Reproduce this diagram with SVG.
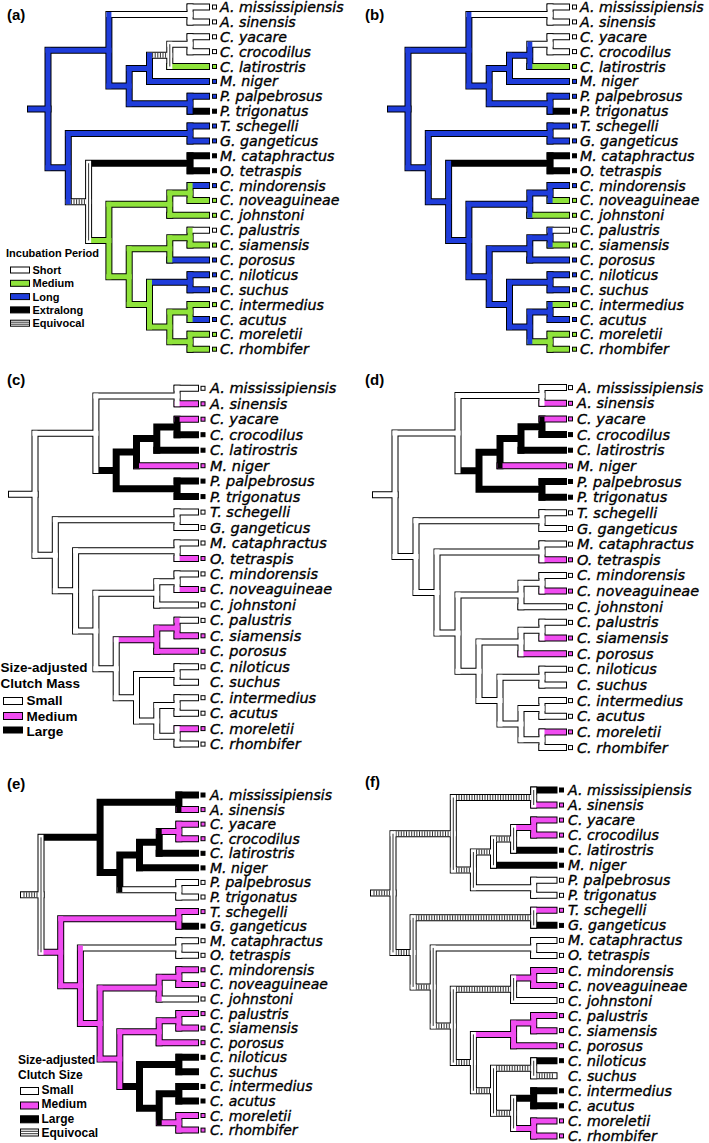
<svg xmlns="http://www.w3.org/2000/svg" width="709" height="1143" viewBox="0 0 709 1143">
<style>
.o,.W,.G,.B,.K,.M,.E,.et,.ev{fill:none;vector-effect:non-scaling-stroke}
.o{stroke:#000;stroke-width:7;stroke-linecap:square}
.W,.G,.B,.K,.M,.E{stroke-width:5;stroke-linecap:square}
.W,.E{stroke:#fff}
.G{stroke:#8fe33b}
.B{stroke:#1f3ddb}
.K{stroke:#000}
.M{stroke:#f04cf0}
.et{stroke:#333;stroke-width:5;stroke-dasharray:1 1.6}
.ev{stroke:#333;stroke-width:1}
.tb{stroke:#000;stroke-width:1}
.fw{fill:#fff}.fg{fill:#8fe33b}.fb{fill:#1f3ddb}.fk{fill:#000}.fm{fill:#f04cf0}
.n{font-family:"DejaVu Sans",sans-serif;font-style:italic;font-size:14.2px;fill:#000;stroke:#000;stroke-width:0.35}
#c-tips .n,#d-tips .n{font-size:14.5px}
#e-tips .n{font-size:14px}
.pl{font-family:"Liberation Sans",Arial,sans-serif;font-weight:bold;font-size:15px}
.lg{font-family:"Liberation Sans",Arial,sans-serif;font-weight:bold}
.lb{stroke:#000;stroke-width:1}
</style>
<defs>
<path id="skel" class="o" d="M0,2.906V10.797M3,0.5V5.3125M7,0V1M4,4.125V6.5M5,3.25V5M6,2.5V4M7,2V3M7,6V7M1,8.5V13.094M7,8V9M2,10.5V15.6875M7,10V11M3,13.25V18.125M6,12.5V14M7,12V13M4,16.25V20M6,15.5V17M7,15V16M5,18.5V21.5M7,18V19M6,20.5V22.5M7,20V21M7,22V23M0,2.906H3M0,10.797H1M3,0.5H7M3,5.3125H4M4,4.125H5M5,3.25H6M6,2.5H7M4,6.5H7M1,8.5H7M1,13.094H2M2,10.5H7M2,15.6875H3M3,13.25H6M6,12.5H7M3,18.125H4M4,16.25H6M6,15.5H7M4,20H5M5,18.5H7M5,21.5H6M6,20.5H7M6,22.5H7"/>
</defs>
<rect width="709" height="1143" fill="#fff"/>

<!-- Panel A -->
<g id="panel-a">
<text class="pl" x="7" y="20">(a)</text>
<g id="a-connectors" transform="translate(48,7) scale(20.3,14.88)">
<use href="#skel"/>
<path class="o" d="M-0.862,6.852H0M7,0H7.808M7,1H7.808M7,2H7.808M7,3H7.808M6,4H7.808M5,5H7.808M7,6H7.808M7,7H7.808M7,8H7.808M7,9H7.808M7,10H7.808M7,11H7.808M7,12H7.808M7,13H7.808M6,14H7.808M7,15H7.808M7,16H7.808M6,17H7.808M7,18H7.808M7,19H7.808M7,20H7.808M7,21H7.808M7,22H7.808M7,23H7.808"/>
<path class="B" d="M0,2.906H3M0,10.797H1M3,5.3125H4M4,4.125H5M4,6.5H7M1,8.5H7M5,18.5H7M-0.862,6.852H0M5,5H7.808M7,6H7.808M7,8H7.808M7,9H7.808M7,12H7.808M6,17H7.808M7,18H7.808M7,19H7.808M7,21H7.808"/>
<path class="W" d="M3,0.5H7M6,2.5H7M7,0H7.808M7,1H7.808M7,2H7.808M7,3H7.808M7,15H7.808"/>
<path class="E" d="M5,3.25H6M1,13.094H2"/>
<path class="K" d="M2,10.5H7M7,7H7.808M7,10H7.808M7,11H7.808"/>
<path class="G" d="M2,15.6875H3M3,13.25H6M6,12.5H7M3,18.125H4M4,16.25H6M6,15.5H7M4,20H5M5,21.5H6M6,20.5H7M6,22.5H7M6,4H7.808M7,13H7.808M6,14H7.808M7,16H7.808M7,20H7.808M7,22H7.808M7,23H7.808"/>
<path class="et" d="M5,3.25H6M1,13.094H2"/>
<path class="B" d="M0,2.906V10.797M3,0.5V5.3125M4,4.125V6.5M5,3.25V5M7,6V7M1,8.5V13.094M7,8V9M7,18V19"/>
<path class="W" d="M7,0V1M7,2V3"/>
<path class="E" d="M6,2.5V4M2,10.5V15.6875"/>
<path class="K" d="M7,10V11"/>
<path class="G" d="M3,13.25V18.125M6,12.5V14M7,12V13M4,16.25V20M6,15.5V17M7,15V16M5,18.5V21.5M6,20.5V22.5M7,20V21M7,22V23"/>
<path class="ev" d="M6,2.5V4M2,10.5V15.6875"/>
</g>
<g id="a-tips">
<g id="a-t0"><rect class="tb fw" x="212.5" y="5" width="4" height="4"/><text class="n" x="220" y="12">A. mississipiensis</text></g>
<g id="a-t1"><rect class="tb fw" x="212.5" y="19.9" width="4" height="4"/><text class="n" x="220" y="26.9">A. sinensis</text></g>
<g id="a-t2"><rect class="tb fw" x="212.5" y="34.8" width="4" height="4"/><text class="n" x="220" y="41.8">C. yacare</text></g>
<g id="a-t3"><rect class="tb fw" x="212.5" y="49.6" width="4" height="4"/><text class="n" x="220" y="56.6">C. crocodilus</text></g>
<g id="a-t4"><rect class="tb fg" x="212.5" y="64.5" width="4" height="4"/><text class="n" x="220" y="71.5">C. latirostris</text></g>
<g id="a-t5"><rect class="tb fb" x="212.5" y="79.4" width="4" height="4"/><text class="n" x="220" y="86.4">M. niger</text></g>
<g id="a-t6"><rect class="tb fb" x="212.5" y="94.3" width="4" height="4"/><text class="n" x="220" y="101.3">P. palpebrosus</text></g>
<g id="a-t7"><rect class="tb fk" x="212.5" y="109.2" width="4" height="4"/><text class="n" x="220" y="116.2">P. trigonatus</text></g>
<g id="a-t8"><rect class="tb fb" x="212.5" y="124" width="4" height="4"/><text class="n" x="220" y="131">T. schegelli</text></g>
<g id="a-t9"><rect class="tb fb" x="212.5" y="138.9" width="4" height="4"/><text class="n" x="220" y="145.9">G. gangeticus</text></g>
<g id="a-t10"><rect class="tb fk" x="212.5" y="153.8" width="4" height="4"/><text class="n" x="220" y="160.8">M. cataphractus</text></g>
<g id="a-t11"><rect class="tb fk" x="212.5" y="168.7" width="4" height="4"/><text class="n" x="220" y="175.7">O. tetraspis</text></g>
<g id="a-t12"><rect class="tb fb" x="212.5" y="183.6" width="4" height="4"/><text class="n" x="220" y="190.6">C. mindorensis</text></g>
<g id="a-t13"><rect class="tb fg" x="212.5" y="198.4" width="4" height="4"/><text class="n" x="220" y="205.4">C. noveaguineae</text></g>
<g id="a-t14"><rect class="tb fg" x="212.5" y="213.3" width="4" height="4"/><text class="n" x="220" y="220.3">C. johnstoni</text></g>
<g id="a-t15"><rect class="tb fw" x="212.5" y="228.2" width="4" height="4"/><text class="n" x="220" y="235.2">C. palustris</text></g>
<g id="a-t16"><rect class="tb fg" x="212.5" y="243.1" width="4" height="4"/><text class="n" x="220" y="250.1">C. siamensis</text></g>
<g id="a-t17"><rect class="tb fb" x="212.5" y="258" width="4" height="4"/><text class="n" x="220" y="265">C. porosus</text></g>
<g id="a-t18"><rect class="tb fb" x="212.5" y="272.8" width="4" height="4"/><text class="n" x="220" y="279.8">C. niloticus</text></g>
<g id="a-t19"><rect class="tb fb" x="212.5" y="287.7" width="4" height="4"/><text class="n" x="220" y="294.7">C. suchus</text></g>
<g id="a-t20"><rect class="tb fg" x="212.5" y="302.6" width="4" height="4"/><text class="n" x="220" y="309.6">C. intermedius</text></g>
<g id="a-t21"><rect class="tb fb" x="212.5" y="317.5" width="4" height="4"/><text class="n" x="220" y="324.5">C. acutus</text></g>
<g id="a-t22"><rect class="tb fg" x="212.5" y="332.4" width="4" height="4"/><text class="n" x="220" y="339.4">C. moreletii</text></g>
<g id="a-t23"><rect class="tb fg" x="212.5" y="347.2" width="4" height="4"/><text class="n" x="220" y="354.2">C. rhombifer</text></g>
</g>
<g id="a-legend">
<text class="lg" x="6" y="256.5" font-size="11">Incubation Period</text>
<rect class="lb" x="10.5" y="267" width="19" height="6" fill="#fff"/>
<rect class="lb" x="10.5" y="280.3" width="19" height="6" fill="#8fe33b"/>
<rect class="lb" x="10.5" y="293.6" width="19" height="6" fill="#1f3ddb"/>
<rect class="lb" x="10.5" y="306.9" width="19" height="6" fill="#000"/>
<rect class="lb" x="10.5" y="320.2" width="19" height="6" fill="#fff"/>
<path d="M10.5,322.2H29.5M10.5,324.2H29.5" stroke="#333" stroke-width="1"/>
<text class="lg" x="32.5" y="274" font-size="11">Short</text>
<text class="lg" x="32.5" y="287.3" font-size="11">Medium</text>
<text class="lg" x="32.5" y="300.6" font-size="11">Long</text>
<text class="lg" x="32.5" y="313.9" font-size="11">Extralong</text>
<text class="lg" x="32.5" y="327.2" font-size="11">Equivocal</text>
</g>
</g>

<!-- Panel B -->
<g id="panel-b">
<text class="pl" x="365" y="20">(b)</text>
<g id="b-connectors" transform="translate(408,7) scale(20.3,14.88)">
<use href="#skel"/>
<path class="o" d="M-0.862,6.852H0M7,0H7.808M7,1H7.808M7,2H7.808M7,3H7.808M6,4H7.808M5,5H7.808M7,6H7.808M7,7H7.808M7,8H7.808M7,9H7.808M7,10H7.808M7,11H7.808M7,12H7.808M7,13H7.808M6,14H7.808M7,15H7.808M7,16H7.808M6,17H7.808M7,18H7.808M7,19H7.808M7,20H7.808M7,21H7.808M7,22H7.808M7,23H7.808"/>
<path class="B" d="M0,2.906H3M0,10.797H1M3,5.3125H4M4,4.125H5M5,3.25H6M4,6.5H7M1,8.5H7M1,13.094H2M2,15.6875H3M3,13.25H6M6,12.5H7M3,18.125H4M4,16.25H6M6,15.5H7M4,20H5M5,18.5H7M5,21.5H6M6,20.5H7M-0.862,6.852H0M5,5H7.808M7,6H7.808M7,8H7.808M7,9H7.808M7,12H7.808M6,17H7.808M7,18H7.808M7,19H7.808M7,21H7.808"/>
<path class="W" d="M3,0.5H7M6,2.5H7M7,0H7.808M7,1H7.808M7,2H7.808M7,3H7.808M7,15H7.808"/>
<path class="K" d="M2,10.5H7M7,7H7.808M7,10H7.808M7,11H7.808"/>
<path class="G" d="M6,22.5H7M6,4H7.808M7,13H7.808M6,14H7.808M7,16H7.808M7,20H7.808M7,22H7.808M7,23H7.808"/>
<path class="B" d="M0,2.906V10.797M3,0.5V5.3125M4,4.125V6.5M5,3.25V5M6,2.5V4M7,6V7M1,8.5V13.094M7,8V9M2,10.5V15.6875M3,13.25V18.125M6,12.5V14M7,12V13M4,16.25V20M6,15.5V17M7,15V16M5,18.5V21.5M7,18V19M6,20.5V22.5M7,20V21"/>
<path class="W" d="M7,0V1M7,2V3"/>
<path class="K" d="M7,10V11"/>
<path class="G" d="M7,22V23"/>
</g>
<g id="b-tips">
<g id="b-t0"><rect class="tb fw" x="572.5" y="5" width="4" height="4"/><text class="n" x="580" y="12">A. mississipiensis</text></g>
<g id="b-t1"><rect class="tb fw" x="572.5" y="19.9" width="4" height="4"/><text class="n" x="580" y="26.9">A. sinensis</text></g>
<g id="b-t2"><rect class="tb fw" x="572.5" y="34.8" width="4" height="4"/><text class="n" x="580" y="41.8">C. yacare</text></g>
<g id="b-t3"><rect class="tb fw" x="572.5" y="49.6" width="4" height="4"/><text class="n" x="580" y="56.6">C. crocodilus</text></g>
<g id="b-t4"><rect class="tb fg" x="572.5" y="64.5" width="4" height="4"/><text class="n" x="580" y="71.5">C. latirostris</text></g>
<g id="b-t5"><rect class="tb fb" x="572.5" y="79.4" width="4" height="4"/><text class="n" x="580" y="86.4">M. niger</text></g>
<g id="b-t6"><rect class="tb fb" x="572.5" y="94.3" width="4" height="4"/><text class="n" x="580" y="101.3">P. palpebrosus</text></g>
<g id="b-t7"><rect class="tb fk" x="572.5" y="109.2" width="4" height="4"/><text class="n" x="580" y="116.2">P. trigonatus</text></g>
<g id="b-t8"><rect class="tb fb" x="572.5" y="124" width="4" height="4"/><text class="n" x="580" y="131">T. schegelli</text></g>
<g id="b-t9"><rect class="tb fb" x="572.5" y="138.9" width="4" height="4"/><text class="n" x="580" y="145.9">G. gangeticus</text></g>
<g id="b-t10"><rect class="tb fk" x="572.5" y="153.8" width="4" height="4"/><text class="n" x="580" y="160.8">M. cataphractus</text></g>
<g id="b-t11"><rect class="tb fk" x="572.5" y="168.7" width="4" height="4"/><text class="n" x="580" y="175.7">O. tetraspis</text></g>
<g id="b-t12"><rect class="tb fb" x="572.5" y="183.6" width="4" height="4"/><text class="n" x="580" y="190.6">C. mindorensis</text></g>
<g id="b-t13"><rect class="tb fg" x="572.5" y="198.4" width="4" height="4"/><text class="n" x="580" y="205.4">C. noveaguineae</text></g>
<g id="b-t14"><rect class="tb fg" x="572.5" y="213.3" width="4" height="4"/><text class="n" x="580" y="220.3">C. johnstoni</text></g>
<g id="b-t15"><rect class="tb fw" x="572.5" y="228.2" width="4" height="4"/><text class="n" x="580" y="235.2">C. palustris</text></g>
<g id="b-t16"><rect class="tb fg" x="572.5" y="243.1" width="4" height="4"/><text class="n" x="580" y="250.1">C. siamensis</text></g>
<g id="b-t17"><rect class="tb fb" x="572.5" y="258" width="4" height="4"/><text class="n" x="580" y="265">C. porosus</text></g>
<g id="b-t18"><rect class="tb fb" x="572.5" y="272.8" width="4" height="4"/><text class="n" x="580" y="279.8">C. niloticus</text></g>
<g id="b-t19"><rect class="tb fb" x="572.5" y="287.7" width="4" height="4"/><text class="n" x="580" y="294.7">C. suchus</text></g>
<g id="b-t20"><rect class="tb fg" x="572.5" y="302.6" width="4" height="4"/><text class="n" x="580" y="309.6">C. intermedius</text></g>
<g id="b-t21"><rect class="tb fb" x="572.5" y="317.5" width="4" height="4"/><text class="n" x="580" y="324.5">C. acutus</text></g>
<g id="b-t22"><rect class="tb fg" x="572.5" y="332.4" width="4" height="4"/><text class="n" x="580" y="339.4">C. moreletii</text></g>
<g id="b-t23"><rect class="tb fg" x="572.5" y="347.2" width="4" height="4"/><text class="n" x="580" y="354.2">C. rhombifer</text></g>
</g>
</g>

<!-- Panel C -->
<g id="panel-c">
<text class="pl" x="7" y="385">(c)</text>
<g id="c-connectors" transform="translate(35,388.3) scale(20.3,15.47)">
<use href="#skel"/>
<path class="o" d="M-1.158,6.852H0M7,0H7.906M7,1H7.906M7,2H7.906M7,3H7.906M6,4H7.906M5,5H7.906M7,6H7.906M7,7H7.906M7,8H7.906M7,9H7.906M7,10H7.906M7,11H7.906M7,12H7.906M7,13H7.906M6,14H7.906M7,15H7.906M7,16H7.906M6,17H7.906M7,18H7.906M7,19H7.906M7,20H7.906M7,21H7.906M7,22H7.906M7,23H7.906"/>
<path class="W" d="M0,2.906H3M0,10.797H1M3,0.5H7M1,8.5H7M1,13.094H2M2,10.5H7M2,15.6875H3M3,13.25H6M6,12.5H7M3,18.125H4M4,20H5M5,18.5H7M5,21.5H6M6,20.5H7M6,22.5H7M-1.158,6.852H0M7,0H7.906M7,8H7.906M7,9H7.906M7,10H7.906M7,12H7.906M6,14H7.906M7,15H7.906M7,18H7.906M7,19H7.906M7,20H7.906M7,21H7.906M7,23H7.906"/>
<path class="K" d="M3,5.3125H4M4,4.125H5M5,3.25H6M6,2.5H7M4,6.5H7M7,3H7.906M6,4H7.906M7,6H7.906M7,7H7.906"/>
<path class="M" d="M4,16.25H6M6,15.5H7M7,1H7.906M7,2H7.906M5,5H7.906M7,11H7.906M7,13H7.906M7,16H7.906M6,17H7.906M7,22H7.906"/>
<path class="W" d="M0,2.906V10.797M3,0.5V5.3125M7,0V1M1,8.5V13.094M7,8V9M2,10.5V15.6875M7,10V11M3,13.25V18.125M6,12.5V14M7,12V13M4,16.25V20M5,18.5V21.5M7,18V19M6,20.5V22.5M7,20V21M7,22V23"/>
<path class="K" d="M4,4.125V6.5M5,3.25V5M6,2.5V4M7,2V3M7,6V7"/>
<path class="M" d="M6,15.5V17M7,15V16"/>
</g>
<g id="c-tips">
<g id="c-t0"><rect class="tb fw" x="201" y="386.3" width="4" height="4"/><text class="n" x="210" y="393.3">A. mississipiensis</text></g>
<g id="c-t1"><rect class="tb fm" x="201" y="401.8" width="4" height="4"/><text class="n" x="210" y="408.8">A. sinensis</text></g>
<g id="c-t2"><rect class="tb fm" x="201" y="417.2" width="4" height="4"/><text class="n" x="210" y="424.2">C. yacare</text></g>
<g id="c-t3"><rect class="tb fk" x="201" y="432.7" width="4" height="4"/><text class="n" x="210" y="439.7">C. crocodilus</text></g>
<g id="c-t4"><rect class="tb fk" x="201" y="448.2" width="4" height="4"/><text class="n" x="210" y="455.2">C. latirostris</text></g>
<g id="c-t5"><rect class="tb fm" x="201" y="463.7" width="4" height="4"/><text class="n" x="210" y="470.7">M. niger</text></g>
<g id="c-t6"><rect class="tb fk" x="201" y="479.1" width="4" height="4"/><text class="n" x="210" y="486.1">P. palpebrosus</text></g>
<g id="c-t7"><rect class="tb fk" x="201" y="494.6" width="4" height="4"/><text class="n" x="210" y="501.6">P. trigonatus</text></g>
<g id="c-t8"><rect class="tb fw" x="201" y="510.1" width="4" height="4"/><text class="n" x="210" y="517.1">T. schegelli</text></g>
<g id="c-t9"><rect class="tb fw" x="201" y="525.5" width="4" height="4"/><text class="n" x="210" y="532.5">G. gangeticus</text></g>
<g id="c-t10"><rect class="tb fw" x="201" y="541" width="4" height="4"/><text class="n" x="210" y="548">M. cataphractus</text></g>
<g id="c-t11"><rect class="tb fm" x="201" y="556.5" width="4" height="4"/><text class="n" x="210" y="563.5">O. tetraspis</text></g>
<g id="c-t12"><rect class="tb fw" x="201" y="571.9" width="4" height="4"/><text class="n" x="210" y="578.9">C. mindorensis</text></g>
<g id="c-t13"><rect class="tb fm" x="201" y="587.4" width="4" height="4"/><text class="n" x="210" y="594.4">C. noveaguineae</text></g>
<g id="c-t14"><rect class="tb fw" x="201" y="602.9" width="4" height="4"/><text class="n" x="210" y="609.9">C. johnstoni</text></g>
<g id="c-t15"><rect class="tb fw" x="201" y="618.4" width="4" height="4"/><text class="n" x="210" y="625.4">C. palustris</text></g>
<g id="c-t16"><rect class="tb fm" x="201" y="633.8" width="4" height="4"/><text class="n" x="210" y="640.8">C. siamensis</text></g>
<g id="c-t17"><rect class="tb fm" x="201" y="649.3" width="4" height="4"/><text class="n" x="210" y="656.3">C. porosus</text></g>
<g id="c-t18"><rect class="tb fw" x="201" y="664.8" width="4" height="4"/><text class="n" x="210" y="671.8">C. niloticus</text></g>
<g id="c-t19"><text class="n" x="210" y="687.2">C. suchus</text></g>
<g id="c-t20"><rect class="tb fw" x="201" y="695.7" width="4" height="4"/><text class="n" x="210" y="702.7">C. intermedius</text></g>
<g id="c-t21"><rect class="tb fw" x="201" y="711.2" width="4" height="4"/><text class="n" x="210" y="718.2">C. acutus</text></g>
<g id="c-t22"><rect class="tb fm" x="201" y="726.6" width="4" height="4"/><text class="n" x="210" y="733.6">C. moreletii</text></g>
<g id="c-t23"><rect class="tb fw" x="201" y="742.1" width="4" height="4"/><text class="n" x="210" y="749.1">C. rhombifer</text></g>
</g>
<g id="c-legend">
<text class="lg" x="0.5" y="671.5" font-size="13.5">Size-adjusted</text>
<text class="lg" x="0.5" y="688" font-size="13.5">Clutch Mass</text>
<rect class="lb" x="3.5" y="697.5" width="19" height="7" fill="#fff"/>
<rect class="lb" x="3.5" y="712.5" width="19" height="7" fill="#f04cf0"/>
<rect class="lb" x="3.5" y="727" width="19" height="6" fill="#000"/>
<text class="lg" x="26.5" y="705.3" font-size="13.5">Small</text>
<text class="lg" x="26.5" y="720.5" font-size="13.5">Medium</text>
<text class="lg" x="26.5" y="736" font-size="13.5">Large</text>
</g>
</g>

<!-- Panel D -->
<g id="panel-d">
<text class="pl" x="365" y="385">(d)</text>
<g id="d-connectors" transform="translate(395,387.6) scale(21,15.65)">
<use href="#skel"/>
<path class="o" d="M-0.929,6.852H0M7,0H8.024M7,1H8.024M7,2H8.024M7,3H8.024M6,4H8.024M5,5H8.024M7,6H8.024M7,7H8.024M7,8H8.024M7,9H8.024M7,10H8.024M7,11H8.024M7,12H8.024M7,13H8.024M6,14H8.024M7,15H8.024M7,16H8.024M6,17H8.024M7,18H8.024M7,19H8.024M7,20H8.024M7,21H8.024M7,22H8.024M7,23H8.024"/>
<path class="W" d="M0,2.906H3M0,10.797H1M3,0.5H7M1,8.5H7M1,13.094H2M2,10.5H7M2,15.6875H3M3,13.25H6M6,12.5H7M3,18.125H4M4,16.25H6M6,15.5H7M4,20H5M5,18.5H7M5,21.5H6M6,20.5H7M6,22.5H7M-0.929,6.852H0M7,0H8.024M7,8H8.024M7,9H8.024M7,10H8.024M7,12H8.024M6,14H8.024M7,15H8.024M7,18H8.024M7,19H8.024M7,20H8.024M7,21H8.024M7,23H8.024"/>
<path class="K" d="M3,5.3125H4M4,4.125H5M5,3.25H6M6,2.5H7M4,6.5H7M7,3H8.024M6,4H8.024M7,6H8.024M7,7H8.024"/>
<path class="M" d="M7,1H8.024M7,2H8.024M5,5H8.024M7,11H8.024M7,13H8.024M7,16H8.024M6,17H8.024M7,22H8.024"/>
<path class="W" d="M0,2.906V10.797M3,0.5V5.3125M7,0V1M1,8.5V13.094M7,8V9M2,10.5V15.6875M7,10V11M3,13.25V18.125M6,12.5V14M7,12V13M4,16.25V20M6,15.5V17M7,15V16M5,18.5V21.5M7,18V19M6,20.5V22.5M7,20V21M7,22V23"/>
<path class="K" d="M4,4.125V6.5M5,3.25V5M6,2.5V4M7,2V3M7,6V7"/>
</g>
<g id="d-tips">
<g id="d-t0"><rect class="tb fw" x="568.5" y="385.6" width="4" height="4"/><text class="n" x="577" y="392.6">A. mississipiensis</text></g>
<g id="d-t1"><rect class="tb fm" x="568.5" y="401.3" width="4" height="4"/><text class="n" x="577" y="408.3">A. sinensis</text></g>
<g id="d-t2"><rect class="tb fm" x="568.5" y="416.9" width="4" height="4"/><text class="n" x="577" y="423.9">C. yacare</text></g>
<g id="d-t3"><rect class="tb fk" x="568.5" y="432.6" width="4" height="4"/><text class="n" x="577" y="439.6">C. crocodilus</text></g>
<g id="d-t4"><rect class="tb fk" x="568.5" y="448.2" width="4" height="4"/><text class="n" x="577" y="455.2">C. latirostris</text></g>
<g id="d-t5"><rect class="tb fm" x="568.5" y="463.9" width="4" height="4"/><text class="n" x="577" y="470.9">M. niger</text></g>
<g id="d-t6"><rect class="tb fk" x="568.5" y="479.5" width="4" height="4"/><text class="n" x="577" y="486.5">P. palpebrosus</text></g>
<g id="d-t7"><rect class="tb fk" x="568.5" y="495.2" width="4" height="4"/><text class="n" x="577" y="502.2">P. trigonatus</text></g>
<g id="d-t8"><rect class="tb fw" x="568.5" y="510.8" width="4" height="4"/><text class="n" x="577" y="517.8">T. schegelli</text></g>
<g id="d-t9"><rect class="tb fw" x="568.5" y="526.5" width="4" height="4"/><text class="n" x="577" y="533.5">G. gangeticus</text></g>
<g id="d-t10"><rect class="tb fw" x="568.5" y="542.1" width="4" height="4"/><text class="n" x="577" y="549.1">M. cataphractus</text></g>
<g id="d-t11"><rect class="tb fm" x="568.5" y="557.8" width="4" height="4"/><text class="n" x="577" y="564.8">O. tetraspis</text></g>
<g id="d-t12"><rect class="tb fw" x="568.5" y="573.4" width="4" height="4"/><text class="n" x="577" y="580.4">C. mindorensis</text></g>
<g id="d-t13"><rect class="tb fm" x="568.5" y="589.1" width="4" height="4"/><text class="n" x="577" y="596.1">C. noveaguineae</text></g>
<g id="d-t14"><rect class="tb fw" x="568.5" y="604.7" width="4" height="4"/><text class="n" x="577" y="611.7">C. johnstoni</text></g>
<g id="d-t15"><rect class="tb fw" x="568.5" y="620.4" width="4" height="4"/><text class="n" x="577" y="627.4">C. palustris</text></g>
<g id="d-t16"><rect class="tb fm" x="568.5" y="636" width="4" height="4"/><text class="n" x="577" y="643">C. siamensis</text></g>
<g id="d-t17"><rect class="tb fm" x="568.5" y="651.7" width="4" height="4"/><text class="n" x="577" y="658.7">C. porosus</text></g>
<g id="d-t18"><rect class="tb fw" x="568.5" y="667.3" width="4" height="4"/><text class="n" x="577" y="674.3">C. niloticus</text></g>
<g id="d-t19"><text class="n" x="577" y="690">C. suchus</text></g>
<g id="d-t20"><rect class="tb fw" x="568.5" y="698.6" width="4" height="4"/><text class="n" x="577" y="705.6">C. intermedius</text></g>
<g id="d-t21"><rect class="tb fw" x="568.5" y="714.3" width="4" height="4"/><text class="n" x="577" y="721.3">C. acutus</text></g>
<g id="d-t22"><rect class="tb fm" x="568.5" y="729.9" width="4" height="4"/><text class="n" x="577" y="736.9">C. moreletii</text></g>
<g id="d-t23"><rect class="tb fw" x="568.5" y="745.6" width="4" height="4"/><text class="n" x="577" y="752.6">C. rhombifer</text></g>
</g>
</g>

<!-- Panel E -->
<g id="panel-e">
<text class="pl" x="7" y="788.5">(e)</text>
<g id="e-connectors" transform="translate(41,795) scale(19.7,14.57)">
<use href="#skel"/>
<path class="o" d="M-0.888,6.852H0M7,0H7.843M7,1H7.843M7,2H7.843M7,3H7.843M6,4H7.843M5,5H7.843M7,6H7.843M7,7H7.843M7,8H7.843M7,9H7.843M7,10H7.843M7,11H7.843M7,12H7.843M7,13H7.843M6,14H7.843M7,15H7.843M7,16H7.843M6,17H7.843M7,18H7.843M7,19H7.843M7,20H7.843M7,21H7.843M7,22H7.843M7,23H7.843"/>
<path class="E" d="M-0.888,6.852H0"/>
<path class="K" d="M0,2.906H3M3,0.5H7M3,5.3125H4M4,4.125H5M5,3.25H6M4,20H5M5,18.5H7M5,21.5H6M6,20.5H7M7,0H7.843M6,4H7.843M5,5H7.843M7,9H7.843M7,18H7.843M7,19H7.843M7,20H7.843M7,21H7.843"/>
<path class="M" d="M6,2.5H7M0,10.797H1M1,8.5H7M1,13.094H2M2,15.6875H3M3,13.25H6M6,12.5H7M3,18.125H4M4,16.25H6M6,15.5H7M6,22.5H7M7,1H7.843M7,2H7.843M7,3H7.843M7,8H7.843M7,12H7.843M7,13H7.843M7,15H7.843M7,16H7.843M6,17H7.843M7,22H7.843M7,23H7.843"/>
<path class="W" d="M4,6.5H7M2,10.5H7M7,6H7.843M7,7H7.843M7,10H7.843M7,11H7.843M6,14H7.843"/>
<path class="et" d="M-0.888,6.852H0"/>
<path class="E" d="M0,2.906V10.797"/>
<path class="K" d="M3,0.5V5.3125M7,0V1M4,4.125V6.5M5,3.25V5M6,2.5V4M5,18.5V21.5M7,18V19M6,20.5V22.5M7,20V21"/>
<path class="M" d="M7,2V3M1,8.5V13.094M7,8V9M2,10.5V15.6875M3,13.25V18.125M6,12.5V14M7,12V13M4,16.25V20M6,15.5V17M7,15V16M7,22V23"/>
<path class="W" d="M7,6V7M7,10V11"/>
<path class="ev" d="M0,2.906V10.797"/>
</g>
<g id="e-tips">
<g id="e-t0"><rect class="tb fk" x="201" y="793" width="4" height="4"/><text class="n" x="210" y="800">A. mississipiensis</text></g>
<g id="e-t1"><rect class="tb fm" x="201" y="807.6" width="4" height="4"/><text class="n" x="210" y="814.6">A. sinensis</text></g>
<g id="e-t2"><rect class="tb fm" x="201" y="822.1" width="4" height="4"/><text class="n" x="210" y="829.1">C. yacare</text></g>
<g id="e-t3"><rect class="tb fm" x="201" y="836.7" width="4" height="4"/><text class="n" x="210" y="843.7">C. crocodilus</text></g>
<g id="e-t4"><rect class="tb fk" x="201" y="851.3" width="4" height="4"/><text class="n" x="210" y="858.3">C. latirostris</text></g>
<g id="e-t5"><rect class="tb fk" x="201" y="865.9" width="4" height="4"/><text class="n" x="210" y="872.9">M. niger</text></g>
<g id="e-t6"><rect class="tb fw" x="201" y="880.4" width="4" height="4"/><text class="n" x="210" y="887.4">P. palpebrosus</text></g>
<g id="e-t7"><rect class="tb fw" x="201" y="895" width="4" height="4"/><text class="n" x="210" y="902">P. trigonatus</text></g>
<g id="e-t8"><rect class="tb fm" x="201" y="909.6" width="4" height="4"/><text class="n" x="210" y="916.6">T. schegelli</text></g>
<g id="e-t9"><rect class="tb fk" x="201" y="924.1" width="4" height="4"/><text class="n" x="210" y="931.1">G. gangeticus</text></g>
<g id="e-t10"><rect class="tb fw" x="201" y="938.7" width="4" height="4"/><text class="n" x="210" y="945.7">M. cataphractus</text></g>
<g id="e-t11"><rect class="tb fw" x="201" y="953.3" width="4" height="4"/><text class="n" x="210" y="960.3">O. tetraspis</text></g>
<g id="e-t12"><rect class="tb fm" x="201" y="967.8" width="4" height="4"/><text class="n" x="210" y="974.8">C. mindorensis</text></g>
<g id="e-t13"><rect class="tb fm" x="201" y="982.4" width="4" height="4"/><text class="n" x="210" y="989.4">C. noveaguineae</text></g>
<g id="e-t14"><rect class="tb fw" x="201" y="997" width="4" height="4"/><text class="n" x="210" y="1004">C. johnstoni</text></g>
<g id="e-t15"><rect class="tb fm" x="201" y="1011.6" width="4" height="4"/><text class="n" x="210" y="1018.6">C. palustris</text></g>
<g id="e-t16"><rect class="tb fm" x="201" y="1026.1" width="4" height="4"/><text class="n" x="210" y="1033.1">C. siamensis</text></g>
<g id="e-t17"><rect class="tb fm" x="201" y="1040.7" width="4" height="4"/><text class="n" x="210" y="1047.7">C. porosus</text></g>
<g id="e-t18"><rect class="tb fk" x="201" y="1055.3" width="4" height="4"/><text class="n" x="210" y="1062.3">C. niloticus</text></g>
<g id="e-t19"><text class="n" x="210" y="1076.8">C. suchus</text></g>
<g id="e-t20"><rect class="tb fk" x="201" y="1084.4" width="4" height="4"/><text class="n" x="210" y="1091.4">C. intermedius</text></g>
<g id="e-t21"><rect class="tb fk" x="201" y="1099" width="4" height="4"/><text class="n" x="210" y="1106">C. acutus</text></g>
<g id="e-t22"><rect class="tb fm" x="201" y="1113.5" width="4" height="4"/><text class="n" x="210" y="1120.5">C. moreletii</text></g>
<g id="e-t23"><rect class="tb fm" x="201" y="1128.1" width="4" height="4"/><text class="n" x="210" y="1135.1">C. rhombifer</text></g>
</g>
<g id="e-legend">
<text class="lg" x="18" y="1064.3" font-size="12">Size-adjusted</text>
<text class="lg" x="18" y="1079.3" font-size="12">Clutch Size</text>
<rect class="lb" x="20.5" y="1087.5" width="18" height="7" fill="#fff"/>
<rect class="lb" x="20.5" y="1102" width="18" height="7" fill="#f04cf0"/>
<rect class="lb" x="20.5" y="1115.8" width="18" height="7" fill="#000"/>
<rect class="lb" x="20.5" y="1129" width="18" height="7" fill="#fff"/>
<path d="M20.5,1131.3H38.5M20.5,1133.7H38.5" stroke="#333" stroke-width="1"/>
<text class="lg" x="41.5" y="1093.6" font-size="12">Small</text>
<text class="lg" x="41.5" y="1108.3" font-size="12">Medium</text>
<text class="lg" x="41.5" y="1122.6" font-size="12">Large</text>
<text class="lg" x="41.5" y="1137" font-size="12">Equivocal</text>
</g>
</g>

<!-- Panel F -->
<g id="panel-f">
<text class="pl" x="365" y="787">(f)</text>
<g id="f-connectors" transform="translate(393,790) scale(20.1,15.04)">
<use href="#skel"/>
<path class="o" d="M-0.97,6.852H0M7,0H8.01M7,1H8.01M7,2H8.01M7,3H8.01M6,4H8.01M5,5H8.01M7,6H8.01M7,7H8.01M7,8H8.01M7,9H8.01M7,10H8.01M7,11H8.01M7,12H8.01M7,13H8.01M6,14H8.01M7,15H8.01M7,16H8.01M6,17H8.01M7,18H8.01M7,19H8.01M7,20H8.01M7,21H8.01M7,22H8.01M7,23H8.01"/>
<path class="E" d="M-0.97,6.852H0M0,2.906H3M0,10.797H1M3,0.5H7M3,5.3125H4M4,4.125H5M5,3.25H6M1,8.5H7M1,13.094H2M2,15.6875H3M3,13.25H6M3,18.125H4M4,20H5M5,18.5H7M5,21.5H6M7,19H8.01"/>
<path class="M" d="M6,2.5H7M6,12.5H7M4,16.25H6M6,15.5H7M6,22.5H7M7,1H8.01M7,2H8.01M7,3H8.01M7,8H8.01M7,12H8.01M7,13H8.01M7,15H8.01M7,16H8.01M6,17H8.01M7,22H8.01M7,23H8.01"/>
<path class="K" d="M6,20.5H7M7,0H8.01M6,4H8.01M5,5H8.01M7,9H8.01M7,18H8.01M7,20H8.01M7,21H8.01"/>
<path class="W" d="M4,6.5H7M2,10.5H7M7,6H8.01M7,7H8.01M7,10H8.01M7,11H8.01M6,14H8.01"/>
<path class="et" d="M-0.97,6.852H0M0,2.906H3M0,10.797H1M3,0.5H7M3,5.3125H4M4,4.125H5M5,3.25H6M1,8.5H7M1,13.094H2M2,15.6875H3M3,13.25H6M3,18.125H4M4,20H5M5,18.5H7M5,21.5H6M7,19H8.01"/>
<path class="E" d="M0,2.906V10.797M3,0.5V5.3125M7,0V1M4,4.125V6.5M5,3.25V5M6,2.5V4M1,8.5V13.094M7,8V9M2,10.5V15.6875M3,13.25V18.125M6,12.5V14M4,16.25V20M5,18.5V21.5M7,18V19M6,20.5V22.5"/>
<path class="M" d="M7,2V3M7,12V13M6,15.5V17M7,15V16M7,22V23"/>
<path class="K" d="M7,20V21"/>
<path class="W" d="M7,6V7M7,10V11"/>
<path class="ev" d="M0,2.906V10.797M3,0.5V5.3125M7,0V1M4,4.125V6.5M5,3.25V5M6,2.5V4M1,8.5V13.094M7,8V9M2,10.5V15.6875M3,13.25V18.125M6,12.5V14M4,16.25V20M5,18.5V21.5M7,18V19M6,20.5V22.5"/>
</g>
<g id="f-tips">
<g id="f-t0"><rect class="tb fk" x="559.5" y="788" width="4" height="4"/><text class="n" x="568" y="795">A. mississipiensis</text></g>
<g id="f-t1"><rect class="tb fm" x="559.5" y="803" width="4" height="4"/><text class="n" x="568" y="810">A. sinensis</text></g>
<g id="f-t2"><rect class="tb fm" x="559.5" y="818.1" width="4" height="4"/><text class="n" x="568" y="825.1">C. yacare</text></g>
<g id="f-t3"><rect class="tb fm" x="559.5" y="833.1" width="4" height="4"/><text class="n" x="568" y="840.1">C. crocodilus</text></g>
<g id="f-t4"><rect class="tb fk" x="559.5" y="848.2" width="4" height="4"/><text class="n" x="568" y="855.2">C. latirostris</text></g>
<g id="f-t5"><rect class="tb fk" x="559.5" y="863.2" width="4" height="4"/><text class="n" x="568" y="870.2">M. niger</text></g>
<g id="f-t6"><rect class="tb fw" x="559.5" y="878.2" width="4" height="4"/><text class="n" x="568" y="885.2">P. palpebrosus</text></g>
<g id="f-t7"><rect class="tb fw" x="559.5" y="893.3" width="4" height="4"/><text class="n" x="568" y="900.3">P. trigonatus</text></g>
<g id="f-t8"><rect class="tb fm" x="559.5" y="908.3" width="4" height="4"/><text class="n" x="568" y="915.3">T. schegelli</text></g>
<g id="f-t9"><rect class="tb fk" x="559.5" y="923.4" width="4" height="4"/><text class="n" x="568" y="930.4">G. gangeticus</text></g>
<g id="f-t10"><rect class="tb fw" x="559.5" y="938.4" width="4" height="4"/><text class="n" x="568" y="945.4">M. cataphractus</text></g>
<g id="f-t11"><rect class="tb fw" x="559.5" y="953.4" width="4" height="4"/><text class="n" x="568" y="960.4">O. tetraspis</text></g>
<g id="f-t12"><rect class="tb fm" x="559.5" y="968.5" width="4" height="4"/><text class="n" x="568" y="975.5">C. mindorensis</text></g>
<g id="f-t13"><rect class="tb fm" x="559.5" y="983.5" width="4" height="4"/><text class="n" x="568" y="990.5">C. noveaguineae</text></g>
<g id="f-t14"><rect class="tb fw" x="559.5" y="998.6" width="4" height="4"/><text class="n" x="568" y="1005.6">C. johnstoni</text></g>
<g id="f-t15"><rect class="tb fm" x="559.5" y="1013.6" width="4" height="4"/><text class="n" x="568" y="1020.6">C. palustris</text></g>
<g id="f-t16"><rect class="tb fm" x="559.5" y="1028.6" width="4" height="4"/><text class="n" x="568" y="1035.6">C. siamensis</text></g>
<g id="f-t17"><rect class="tb fm" x="559.5" y="1043.7" width="4" height="4"/><text class="n" x="568" y="1050.7">C. porosus</text></g>
<g id="f-t18"><rect class="tb fk" x="559.5" y="1058.7" width="4" height="4"/><text class="n" x="568" y="1065.7">C. niloticus</text></g>
<g id="f-t19"><text class="n" x="568" y="1080.8">C. suchus</text></g>
<g id="f-t20"><rect class="tb fk" x="559.5" y="1088.8" width="4" height="4"/><text class="n" x="568" y="1095.8">C. intermedius</text></g>
<g id="f-t21"><rect class="tb fk" x="559.5" y="1103.8" width="4" height="4"/><text class="n" x="568" y="1110.8">C. acutus</text></g>
<g id="f-t22"><rect class="tb fm" x="559.5" y="1118.9" width="4" height="4"/><text class="n" x="568" y="1125.9">C. moreletii</text></g>
<g id="f-t23"><rect class="tb fm" x="559.5" y="1133.9" width="4" height="4"/><text class="n" x="568" y="1140.9">C. rhombifer</text></g>
</g>
</g>
</svg>
